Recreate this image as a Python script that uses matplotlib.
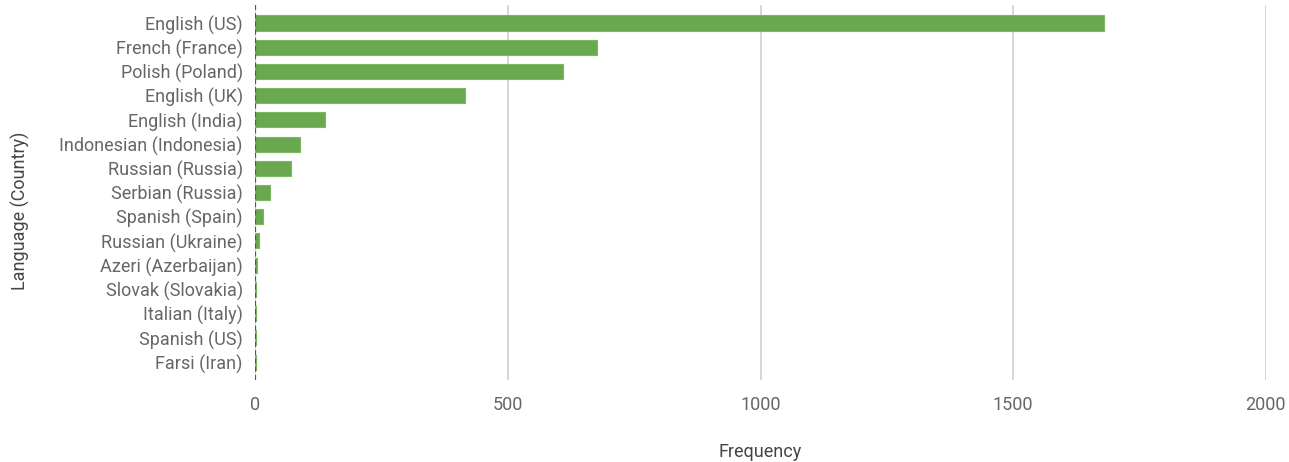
import matplotlib.pyplot as plt

languages = ["English (US)", "French (France)", "Polish (Poland)", "English (UK)",
             "English (India)", "Indonesian (Indonesia)", "Russian (Russia)",
             "Serbian (Russia)", "Spanish (Spain)", "Russian (Ukraine)",
             "Azeri (Azerbaijan)", "Slovak (Slovakia)", "Italian (Italy)",
             "Spanish (US)", "Farsi (Iran)"]
frequency = [1679, 677, 610, 416, 139, 89, 71, 30, 16, 8, 4, 2, 2, 1, 1]
xticks = [0, 500, 1000, 1500, 2000]

plt.rcParams['font.family'] = ['Roboto', 'DejaVu Sans']
txt = '#666666'

fig = plt.figure(figsize=(12.89, 4.62), dpi=100)
ax = fig.add_axes([0.198, 0.177, 0.784, 0.812])

pos = list(range(len(languages)))
ax.barh(pos, frequency, height=0.62, color='#6aa84f', edgecolor='#7cb862', linewidth=0.8, zorder=3)
ax.set_ylim(14.75, -0.74)
ax.set_yticks(pos)
ax.set_yticklabels(languages)
ax.set_xlim(0, 2000)
ax.set_xticks(xticks)

ax.grid(axis='x', color='#d0d0d0', linewidth=1.2, zorder=0)
ax.axvline(0, color='#555555', linewidth=1.6, linestyle=(0, (2.3, 1.4)), zorder=4)
for s in ax.spines.values():
    s.set_visible(False)
ax.tick_params(axis='both', length=0, labelsize=13, labelcolor=txt)
ax.tick_params(axis='x', pad=11)
ax.tick_params(axis='y', pad=9)

fig.text(760 / 1289, 1 - 452 / 462, 'Frequency', fontsize=13, color='#444444',
         ha='center', va='center')
fig.text(20 / 1289, 1 - 211 / 462, 'Language (Country)', fontsize=13, color='#444444',
         ha='center', va='center', rotation=90)

fig.savefig('out.png')
